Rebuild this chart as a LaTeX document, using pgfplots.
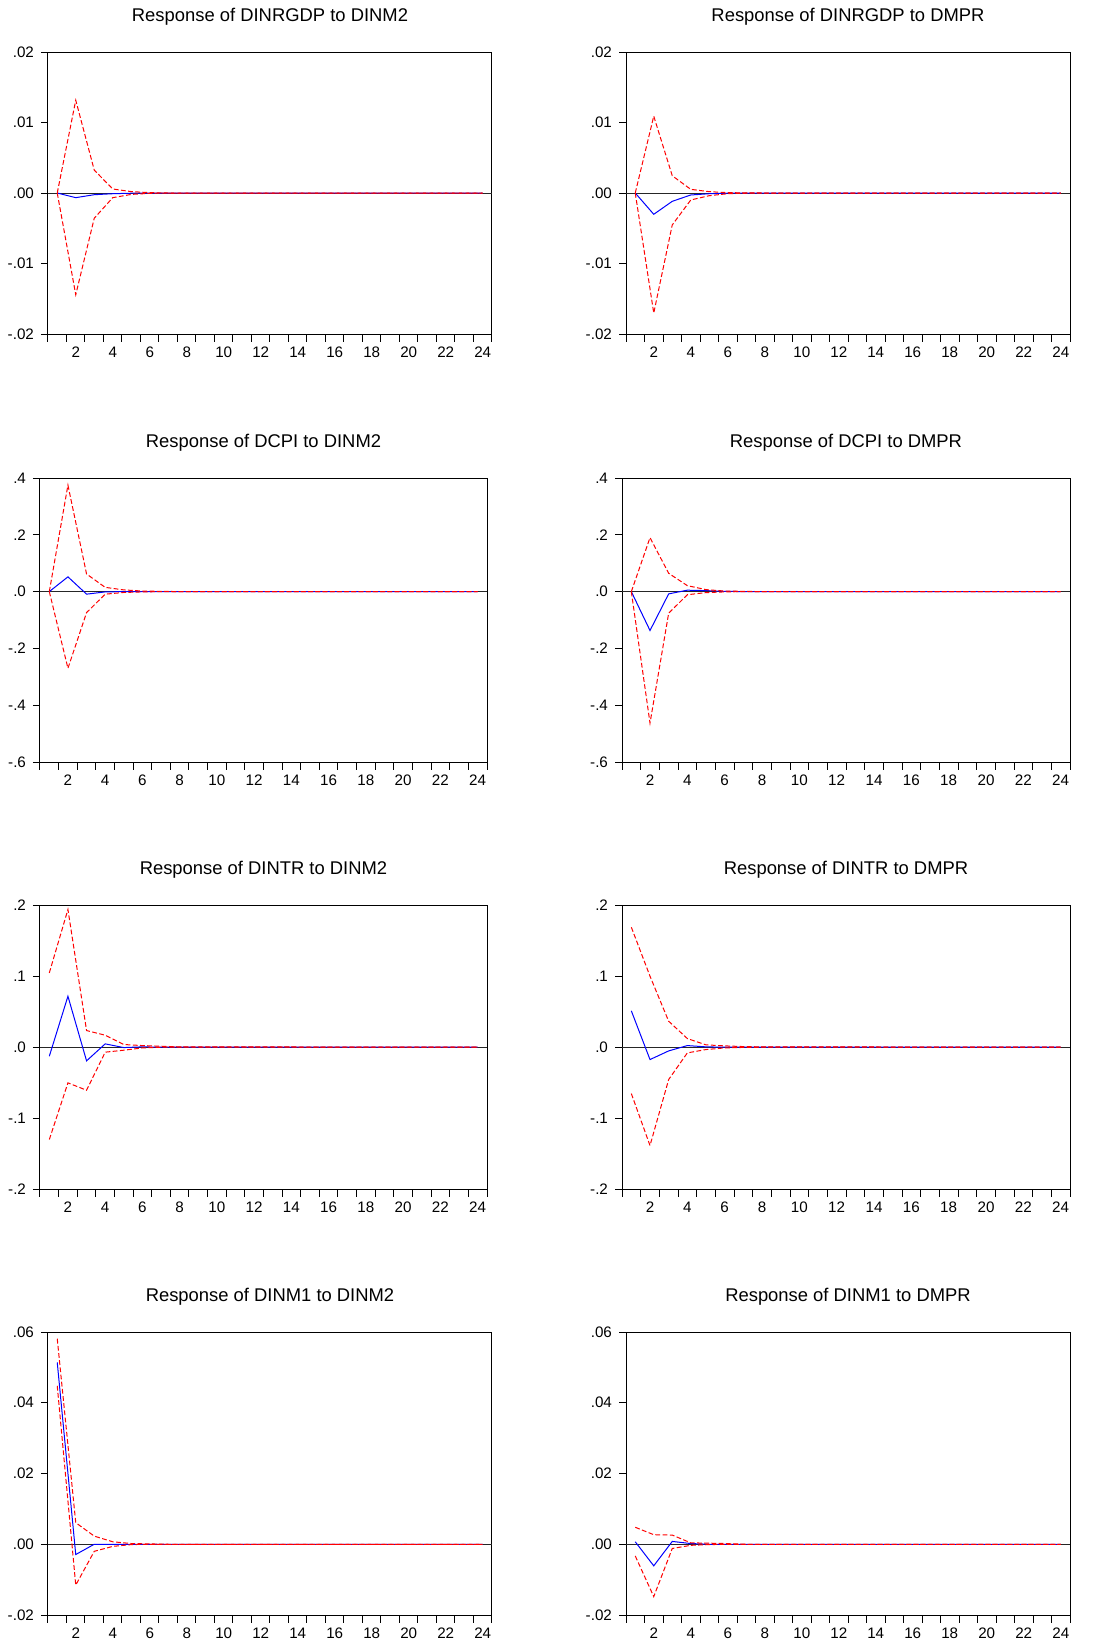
\documentclass[border=0pt]{standalone}
\usepackage{fontspec}
\setmainfont{Liberation Sans}
\usepackage{pgfplots}
\usepackage{pgfplotstable}
\pgfplotsset{compat=1.18}

% impulse responses: t, response, lower band, upper band
\pgfplotstableread{
t r lo hi
1 0 0 0
2 -0.00066 -0.01443 0.01316
3 -0.00024 -0.00358 0.00325
4 -0.00010 -0.00066 0.00057
5 -0.00003 -0.00020 0.00020
6 0 -0.00005 0.00005
7 0 0 0
8 0 0 0
24 0 0 0
}\tGdpMtwo
\pgfplotstableread{
t r lo hi
1 0 0 0
2 -0.00302 -0.01703 0.01090
3 -0.00118 -0.00453 0.00245
4 -0.00028 -0.00099 0.00052
5 -0.00010 -0.00038 0.00019
6 -0.00003 -0.00010 0.00005
7 0 -0.00003 0.00002
8 0 0 0
24 0 0 0
}\tGdpMpr
\pgfplotstableread{
t r lo hi
1 0 0 0
2 0.052 -0.270 0.375
3 -0.009 -0.074 0.062
4 -0.001 -0.009 0.015
5 0 -0.003 0.006
6 0 -0.001 0.002
7 0 0 0.001
8 0 0 0
24 0 0 0
}\tCpiMtwo
\pgfplotstableread{
t r lo hi
1 0 0 0
2 -0.137 -0.463 0.190
3 -0.008 -0.076 0.0645
4 0.005 -0.011 0.021
5 0.0035 -0.0035 0.007
6 0.001 -0.001 0.002
7 0 0 0.001
8 0 0 0
24 0 0 0
}\tCpiMpr
\pgfplotstableread{
t r lo hi
1 -0.0127 -0.130 0.1047
2 0.0718 -0.0502 0.194
3 -0.0192 -0.0606 0.0235
4 0.0047 -0.0070 0.0169
5 -0.0005 -0.0042 0.0038
6 0.0005 -0.0010 0.0023
7 0 0 0.0014
8 0 0 0.0005
24 0 0 0
}\tIntrMtwo
\pgfplotstableread{
t r lo hi
1 0.0512 -0.0653 0.169
2 -0.0174 -0.1385 0.100
3 -0.0052 -0.0455 0.0366
4 0.0023 -0.0080 0.0122
5 0.0005 -0.0033 0.0033
6 0 -0.0010 0.0019
7 0 -0.0003 0.0009
8 0 0 0.0005
24 0 0 0
}\tIntrMpr
\pgfplotstableread{
t r lo hi
1 0.0514 0.0448 0.0581
2 -0.0029 -0.01155 0.0061
3 0 -0.0020 0.0023
4 0 -0.0006 0.0007
5 0 -0.0001 0.0002
6 0 0 0.0001
7 0 0 0
8 0 0 0
24 0 0 0
}\tMoneMtwo
\pgfplotstableread{
t r lo hi
1 0.0007 -0.0033 0.0048
2 -0.0061 -0.0148 0.0027
3 0.0008 -0.0012 0.0026
4 0.0002 -0.0003 0.0004
5 0 -0.0001 0.0003
6 0 0 0.0002
7 0 0 0
8 0 0 0
24 0 0 0
}\tMoneMpr

\pgfplotsset{
  irf/.style={
    scale only axis,
    anchor=north west,
    xmin=0.5, xmax=24.5,
    axis line style={black, line width=0.5pt},
    tick pos=left, tick align=outside,
    scaled ticks=false,
    xtick={2,4,...,24},
    xticklabels={2,4,6,8,10,12,14,16,18,20,22,24},
    minor xtick={0.5,1.5,...,24.5},
    major tick length=3.5pt, minor tick length=3.8pt,
    tick style={black, line width=0.5pt},
    major x tick style={draw=none},
    ticklabel style={font=\fontsize{7.6}{9}\selectfont},
    xticklabel style={inner sep=0pt, anchor=base, yshift=-8pt},
    title style={font=\fontsize{9.2}{11}\selectfont, anchor=base, at={(0.5,1)}, yshift=9.3pt},
  },
  resp/.style={blue, line width=0.5pt},
  band/.style={red, line width=0.5pt, dash pattern=on 2.4pt off 1.2pt},
  zero/.style={black!85, line width=0.5pt},
}

\newcommand{\irfplots}[1]{%
  \addplot[zero] coordinates {(0.5,0) (24.5,0)};
  \addplot[resp] table[x=t, y=r] {#1};
  \addplot[band] table[x=t, y=lo] {#1};
  \addplot[band] table[x=t, y=hi] {#1};
}

\begin{document}
\begin{tikzpicture}
\useasboundingbox (0,0) rectangle (555pt,-820pt);

% row 1
\begin{axis}[irf, at={(24pt,-26pt)}, width=222pt, height=141pt,
  ymin=-0.02, ymax=0.02, ytick={-0.02,-0.01,0,0.01,0.02},
  yticklabels={-.02,-.01,.00,.01,.02},
  title={Response of DINRGDP to DINM2}]
\irfplots{\tGdpMtwo}
\end{axis}
\begin{axis}[irf, at={(313pt,-26pt)}, width=222pt, height=141pt,
  ymin=-0.02, ymax=0.02, ytick={-0.02,-0.01,0,0.01,0.02},
  yticklabels={-.02,-.01,.00,.01,.02},
  title={Response of DINRGDP to DMPR}]
\irfplots{\tGdpMpr}
\end{axis}

% row 2
\begin{axis}[irf, at={(20pt,-239pt)}, width=223.5pt, height=142pt,
  ymin=-0.6, ymax=0.4, ytick={-0.6,-0.4,-0.2,0,0.2,0.4},
  yticklabels={-.6,-.4,-.2,.0,.2,.4},
  title={Response of DCPI to DINM2}]
\irfplots{\tCpiMtwo}
\end{axis}
\begin{axis}[irf, at={(311pt,-239pt)}, width=224pt, height=142pt,
  ymin=-0.6, ymax=0.4, ytick={-0.6,-0.4,-0.2,0,0.2,0.4},
  yticklabels={-.6,-.4,-.2,.0,.2,.4},
  title={Response of DCPI to DMPR}]
\irfplots{\tCpiMpr}
\end{axis}

% row 3
\begin{axis}[irf, at={(20pt,-452.6pt)}, width=223.5pt, height=142pt,
  ymin=-0.2, ymax=0.2, ytick={-0.2,-0.1,0,0.1,0.2},
  yticklabels={-.2,-.1,.0,.1,.2},
  title={Response of DINTR to DINM2}]
\irfplots{\tIntrMtwo}
\end{axis}
\begin{axis}[irf, at={(311pt,-452.6pt)}, width=224pt, height=142pt,
  ymin=-0.2, ymax=0.2, ytick={-0.2,-0.1,0,0.1,0.2},
  yticklabels={-.2,-.1,.0,.1,.2},
  title={Response of DINTR to DMPR}]
\irfplots{\tIntrMpr}
\end{axis}

% row 4
\begin{axis}[irf, at={(24pt,-666pt)}, width=222pt, height=141.5pt,
  ymin=-0.02, ymax=0.06, ytick={-0.02,0,0.02,0.04,0.06},
  yticklabels={-.02,.00,.02,.04,.06},
  title={Response of DINM1 to DINM2}]
\irfplots{\tMoneMtwo}
\end{axis}
\begin{axis}[irf, at={(313pt,-666pt)}, width=222pt, height=141.5pt,
  ymin=-0.02, ymax=0.06, ytick={-0.02,0,0.02,0.04,0.06},
  yticklabels={-.02,.00,.02,.04,.06},
  title={Response of DINM1 to DMPR}]
\irfplots{\tMoneMpr}
\end{axis}
\end{tikzpicture}
\end{document}
